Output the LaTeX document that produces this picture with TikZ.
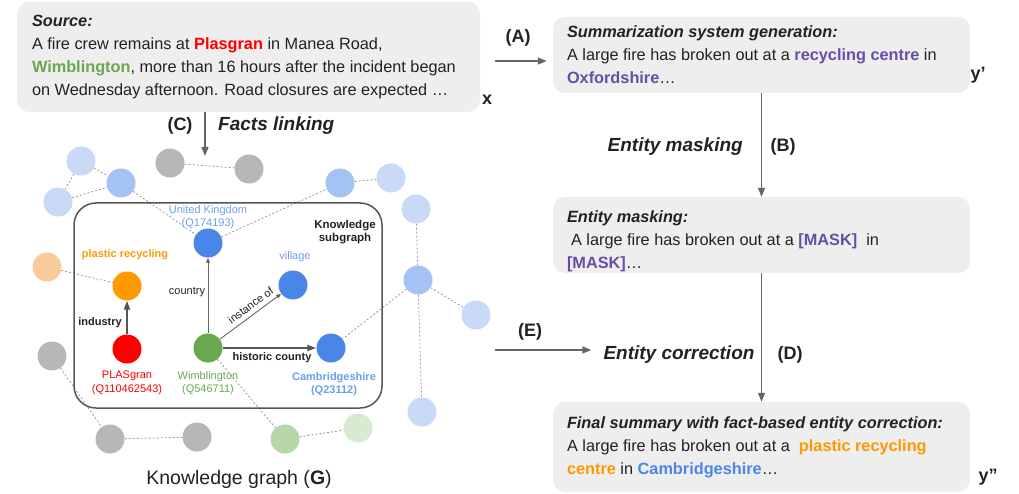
\documentclass[tikz,border=0pt]{standalone}
\usepackage{fontspec}
\setmainfont{Liberation Sans}
\usetikzlibrary{arrows.meta,backgrounds}
\definecolor{txt}{HTML}{222222}
\definecolor{boxfill}{HTML}{EEEEEE}
\definecolor{arr}{HTML}{666666}
\definecolor{dk}{HTML}{555555}
\definecolor{cred}{HTML}{FF0000}
\definecolor{cgreen}{HTML}{6AA84F}
\definecolor{corange}{HTML}{FF9900}
\definecolor{cblue}{HTML}{4A86E8}
\definecolor{clabblue}{HTML}{6D9EEB}
\definecolor{cpurple}{HTML}{674EA7}
\definecolor{lblue}{HTML}{C9DAF8}
\definecolor{mblue}{HTML}{A4C2F4}
\definecolor{cgray}{HTML}{B7B7B7}
\definecolor{lorange}{HTML}{F9CB9C}
\definecolor{lgreen}{HTML}{B6D7A8}
\definecolor{llgreen}{HTML}{D9EAD3}
\definecolor{dashcol}{HTML}{9A9A9A}
\tikzset{
  card/.style={fill=boxfill, rounded corners=12pt, inner sep=0pt, draw=none},
  cardtext/.style={anchor=west, inner sep=0pt, align=left, text=txt, font=\fontsize{16.3}{23}\selectfont},
  kn/.style={circle, minimum size=29pt, inner sep=0pt, fill=#1},
  lab/.style={inner sep=0pt, align=center, font=\fontsize{11}{13.5}\selectfont},
  big/.style={inner sep=0pt, text=txt, font=\fontsize{18}{20}\selectfont\bfseries},
  phase/.style={inner sep=0pt, text=txt, font=\fontsize{19}{21}\selectfont\bfseries\itshape},
  flow/.style={draw=arr, line width=1.3pt, -{Triangle[length=9pt,width=7pt]}},
  rel/.style={draw=dk, line width=2pt, -{Triangle[length=9pt,width=6pt]}},
  thinrel/.style={draw=arr, line width=0.9pt, -{Triangle[length=5pt,width=4pt]}},
  kglink/.style={draw=dashcol, line width=0.8pt, dash pattern=on 2pt off 2pt},
}
\begin{document}
\begin{tikzpicture}[x=1pt,y=-1pt]
\useasboundingbox (0,0) rectangle (1019,494);

% ---------- text cards ----------
\node[card, minimum width=463pt, minimum height=110pt] (src) at (248.5,57) {};
\node[cardtext] (srct) at ([xshift=15pt]src.west) {\textbf{\textit{Source:}}\\
A fire crew remains at \textcolor{cred}{\textbf{Plasgran}} in Manea Road,\\
\textcolor{cgreen}{\textbf{Wimblington}}, more than 16 hours after the incident began\\
on Wednesday afternoon. Road closures are expected …};

\node[card, minimum width=417pt, minimum height=76pt] (sum) at (761.5,55) {};
\node[cardtext] (sumt) at ([xshift=14pt]sum.west) {\textbf{\textit{Summarization system generation:}}\\
A large fire has broken out at a \textcolor{cpurple}{\textbf{recycling centre}} in\\
\textcolor{cpurple}{\textbf{Oxfordshire}}…};

\node[card, minimum width=417pt, minimum height=76pt] (mask) at (761.5,235) {};
\node[cardtext] (maskt) at ([xshift=14pt,yshift=-6pt]mask.west) {\textbf{\textit{Entity masking:}}\\
\hspace*{4pt}A large fire has broken out at a \textcolor{cpurple}{\textbf{[MASK]}}\ \ in\\
\textcolor{cpurple}{\textbf{[MASK]}}…};

\node[card, minimum width=417pt, minimum height=90pt] (fin) at (761.5,447) {};
\node[cardtext] (fint) at ([xshift=14pt]fin.west) {\textbf{\textit{Final summary with fact-based entity correction:}}\\
A large fire has broken out at a \ \textcolor{corange}{\textbf{plastic recycling}}\\
\textcolor{corange}{\textbf{centre}} in \textcolor{cblue}{\textbf{Cambridgeshire}}…};

\node[big] (xl) at (487,100) {x};
\node[big] (y1) at (978,75) {y’};
\node[big] (y2) at (988,477) {y”};

% ---------- flow arrows and labels ----------
\node[big] (la) at (518,38) {(A)};
\coordinate (a0) at (495,61);
\draw[flow, shorten >=6pt] (a0) -- (a0 -| sum.west);

\node[phase, anchor=east] (em) at (743,147) {Entity masking};
\node[big] (lb) at (783,147) {(B)};
\draw[flow] (sum.south) -- (mask.north);

\node[phase] (ec) at (679,355) {Entity correction};
\node[big] (ld) at (790,355) {(D)};
\draw[flow] (mask.south) -- (fin.north);

\node[big] (le) at (530,332) {(E)};
\coordinate (e0) at (495,350);
\draw[flow, shorten >=12pt] (e0) -- (e0 -| ec.west);

\node[big] (lc) at (180,126) {(C)};
\node[phase, anchor=west] (fl) at (218,126) {Facts linking};
\coordinate (c1) at (205,156);
\draw[flow] (src.south -| c1) -- (c1);

\node[inner sep=0pt, text=txt, font=\fontsize{19.5}{22}\selectfont] (kg) at (239,479) {Knowledge graph (\textbf{G})};

% ---------- knowledge graph ----------
\node[draw=dk, line width=1.5pt, rounded corners=22pt, minimum width=308pt, minimum height=205pt, inner sep=0pt] (sg) at (228,305.5) {};
\node[lab, text=txt, font=\fontsize{11.5}{12.5}\selectfont\bfseries] (sgl) at (345,232) {Knowledge\\subgraph};

\node[kn=lblue] (lb1) at (81,161) {};
\node[kn=lblue] (lb2) at (58,202) {};
\node[kn=mblue] (mb1) at (121,183) {};
\node[kn=cgray] (g1) at (170,163) {};
\node[kn=cgray] (g2) at (249,169) {};
\node[kn=cblue] (uk) at (208,243) {};
\node[kn=mblue] (mb2) at (340,183) {};
\node[kn=lblue] (lb3) at (391,178) {};
\node[kn=lblue] (lb4) at (416,209) {};
\node[kn=mblue] (mb3) at (418,280) {};
\node[kn=lblue] (lb5) at (476,315) {};
\node[kn=lblue] (lb6) at (422,412) {};
\node[kn=lorange] (lo) at (47,267) {};
\node[kn=corange] (or) at (127,286) {};
\node[kn=cred] (pl) at (127,349) {};
\node[kn=cgreen] (wi) at (208,348) {};
\node[kn=cblue] (vi) at (293,285) {};
\node[kn=cblue] (ca) at (331,348) {};
\node[kn=cgray] (gl) at (52,356) {};
\node[kn=cgray] (gb1) at (110,439) {};
\node[kn=cgray] (gb2) at (197,437) {};
\node[kn=lgreen] (gr1) at (285,439) {};
\node[kn=llgreen] (gr2) at (358,428) {};

\node[lab, text=clabblue] (ukl) at (208,217) {United Kingdom\\(Q174193)};
\node[lab, text=corange, font=\fontsize{11}{13.5}\selectfont\bfseries] (orl) at (125,255) {plastic recycling};
\node[lab, text=clabblue] (vil) at (295,257) {village};
\node[lab, text=cred] (pll) at (127,383) {PLASgran\\(Q110462543)};
\node[lab, text=cgreen] (wil) at (208,383) {Wimblington\\(Q546711)};
\node[lab, text=clabblue, font=\fontsize{11}{13.5}\selectfont\bfseries] (cal) at (334,384) {Cambridgeshire\\(Q23112)};

\node[lab, text=txt] (rc) at (187,292) {country};
\node[lab, text=txt, font=\fontsize{11}{13.5}\selectfont\bfseries] (ri) at (100,323) {industry};
\node[lab, text=txt, font=\fontsize{11}{13.5}\selectfont\bfseries] (rh) at (272,358) {historic county};
\node[lab, text=txt, rotate=36.5] (rio) at (250.6,305.2) {instance of};

\draw[rel] (pl) -- (or);
\draw[rel] (wi) -- (ca);
\draw[thinrel] (wi) -- (uk);
\draw[thinrel] (wi) -- (vi);

\begin{pgfonlayer}{background}
\draw[kglink] (lb1) -- (lb2);
\draw[kglink] (lb1) -- (mb1);
\draw[kglink] (lb2) -- (mb1);
\draw[kglink] (mb1) -- (uk);
\draw[kglink] (g1) -- (g2);
\draw[kglink] (uk) -- (mb2);
\draw[kglink] (mb2) -- (lb3);
\draw[kglink] (lb4) -- (mb3);
\draw[kglink] (mb3) -- (lb5);
\draw[kglink] (mb3) -- (ca);
\draw[kglink] (mb3) -- (lb6);
\draw[kglink] (lo) -- (or);
\draw[kglink] (gl) -- (gb1);
\draw[kglink] (gb1) -- (gb2);
\draw[kglink] (wi) -- (gr1);
\draw[kglink] (gr1) -- (gr2);
\end{pgfonlayer}
\end{tikzpicture}
\end{document}
